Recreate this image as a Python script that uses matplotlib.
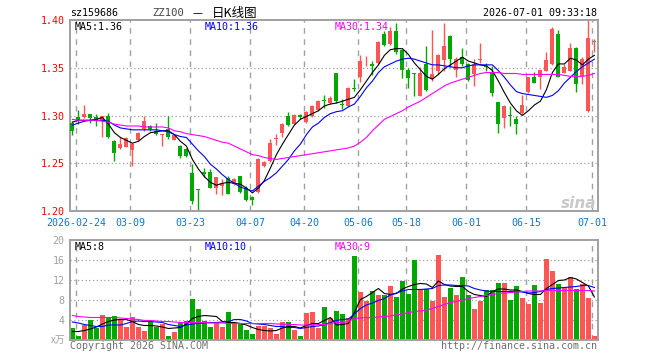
import numpy as np
import matplotlib
matplotlib.use('Agg')
from matplotlib import pyplot as plt

# daily candles, ZZ100 (sz159686)
opens = [1.292, 1.298, 1.298, 1.302, 1.298, 1.294, 1.299, 1.273, 1.266, 1.267,
         1.264, 1.274, 1.286, 1.289, 1.284, 1.280, 1.286, 1.274, 1.268, 1.265,
         1.240, 1.223, 1.241, 1.241, 1.224, 1.226, 1.235, 1.228, 1.237, 1.224,
         1.215, 1.220, 1.247, 1.252, 1.275, 1.282, 1.299, 1.291, 1.301, 1.293,
         1.299, 1.306, 1.316, 1.313, 1.344, 1.312, 1.310, 1.329, 1.340, 1.361,
         1.354, 1.355, 1.385, 1.375, 1.388, 1.369, 1.348, 1.344, 1.320, 1.354,
         1.338, 1.347, 1.358, 1.383, 1.348, 1.361, 1.354, 1.343, 1.358, 1.352,
         1.345, 1.314, 1.297, 1.301, 1.296, 1.303, 1.325, 1.340, 1.340, 1.347,
         1.354, 1.385, 1.345, 1.347, 1.371, 1.341, 1.305, 1.377]
highs = [1.294, 1.306, 1.311, 1.302, 1.302, 1.300, 1.303, 1.274, 1.277, 1.277,
         1.271, 1.283, 1.299, 1.290, 1.292, 1.281, 1.299, 1.280, 1.269, 1.266,
         1.249, 1.223, 1.245, 1.244, 1.236, 1.233, 1.237, 1.235, 1.237, 1.226,
         1.216, 1.255, 1.252, 1.275, 1.281, 1.292, 1.304, 1.302, 1.302, 1.305,
         1.311, 1.316, 1.321, 1.320, 1.344, 1.317, 1.330, 1.338, 1.363, 1.362,
         1.357, 1.378, 1.388, 1.393, 1.397, 1.370, 1.350, 1.344, 1.351, 1.373,
         1.390, 1.364, 1.397, 1.384, 1.361, 1.371, 1.355, 1.359, 1.376, 1.355,
         1.352, 1.314, 1.311, 1.310, 1.299, 1.321, 1.340, 1.346, 1.348, 1.367,
         1.393, 1.390, 1.354, 1.376, 1.372, 1.361, 1.401, 1.380]
lows = [1.280, 1.291, 1.297, 1.292, 1.289, 1.277, 1.276, 1.252, 1.265, 1.267,
        1.247, 1.273, 1.284, 1.284, 1.280, 1.268, 1.275, 1.274, 1.255, 1.257,
        1.207, 1.200, 1.236, 1.224, 1.218, 1.217, 1.218, 1.227, 1.219, 1.210,
        1.206, 1.219, 1.246, 1.251, 1.269, 1.277, 1.289, 1.291, 1.296, 1.292,
        1.298, 1.305, 1.308, 1.312, 1.313, 1.307, 1.309, 1.326, 1.335, 1.352,
        1.342, 1.354, 1.373, 1.374, 1.364, 1.339, 1.329, 1.320, 1.320, 1.326,
        1.336, 1.343, 1.347, 1.351, 1.340, 1.352, 1.336, 1.331, 1.355, 1.347,
        1.320, 1.282, 1.287, 1.289, 1.281, 1.302, 1.324, 1.334, 1.328, 1.347,
        1.353, 1.340, 1.344, 1.347, 1.325, 1.333, 1.304, 1.367]
closes = [1.284, 1.295, 1.302, 1.297, 1.294, 1.300, 1.277, 1.261, 1.270, 1.276,
          1.270, 1.282, 1.294, 1.286, 1.281, 1.281, 1.277, 1.280, 1.258, 1.258,
          1.210, 1.222, 1.239, 1.224, 1.236, 1.229, 1.218, 1.234, 1.220, 1.211,
          1.211, 1.254, 1.251, 1.271, 1.276, 1.291, 1.290, 1.301, 1.298, 1.304,
          1.310, 1.315, 1.315, 1.318, 1.315, 1.311, 1.329, 1.328, 1.357, 1.361,
          1.352, 1.377, 1.374, 1.388, 1.367, 1.348, 1.339, 1.343, 1.345, 1.327,
          1.343, 1.363, 1.373, 1.359, 1.359, 1.354, 1.337, 1.354, 1.359, 1.351,
          1.324, 1.291, 1.310, 1.299, 1.291, 1.311, 1.340, 1.334, 1.348, 1.358,
          1.391, 1.340, 1.351, 1.371, 1.333, 1.359, 1.381, 1.378]

ma5 = [1.293, 1.295, 1.295, 1.295, 1.296, 1.298, 1.291, 1.282, 1.277, 1.274,
       1.271, 1.273, 1.278, 1.282, 1.283, 1.284, 1.284, 1.280, 1.273, 1.268,
       1.254, 1.244, 1.236, 1.230, 1.227, 1.229, 1.230, 1.229, 1.228, 1.224,
       1.219, 1.224, 1.232, 1.245, 1.259, 1.270, 1.280, 1.290, 1.296, 1.299,
       1.302, 1.305, 1.310, 1.312, 1.313, 1.315, 1.317, 1.319, 1.327, 1.336,
       1.345, 1.353, 1.363, 1.369, 1.370, 1.370, 1.364, 1.355, 1.348, 1.341,
       1.338, 1.343, 1.349, 1.353, 1.357, 1.361, 1.357, 1.355, 1.353, 1.352,
       1.347, 1.336, 1.324, 1.313, 1.305, 1.300, 1.305, 1.311, 1.315, 1.327,
       1.345, 1.354, 1.354, 1.360, 1.358, 1.353, 1.359, 1.363]
ma10 = [1.290, 1.292, 1.294, 1.295, 1.295, 1.295, 1.294, 1.290, 1.287, 1.286,
        1.285, 1.285, 1.285, 1.285, 1.285, 1.284, 1.283, 1.280, 1.278, 1.277,
        1.270, 1.263, 1.257, 1.249, 1.244, 1.238, 1.233, 1.229, 1.225, 1.223,
        1.221, 1.226, 1.231, 1.235, 1.240, 1.247, 1.254, 1.263, 1.270, 1.280,
        1.288, 1.292, 1.298, 1.302, 1.304, 1.305, 1.309, 1.312, 1.320, 1.329,
        1.336, 1.345, 1.351, 1.354, 1.357, 1.359, 1.360, 1.359, 1.357, 1.355,
        1.353, 1.353, 1.352, 1.351, 1.350, 1.350, 1.352, 1.353, 1.353, 1.353,
        1.353, 1.347, 1.340, 1.332, 1.325, 1.323, 1.322, 1.321, 1.320, 1.319,
        1.321, 1.326, 1.334, 1.340, 1.346, 1.351, 1.355, 1.359]
ma30 = [1.296, 1.295, 1.295, 1.295, 1.295, 1.294, 1.293, 1.291, 1.290, 1.289,
        1.289, 1.289, 1.288, 1.288, 1.288, 1.288, 1.287, 1.284, 1.283, 1.281,
        1.280, 1.279, 1.278, 1.276, 1.274, 1.272, 1.271, 1.268, 1.265, 1.262,
        1.259, 1.258, 1.256, 1.255, 1.254, 1.255, 1.256, 1.257, 1.258, 1.259,
        1.260, 1.261, 1.262, 1.263, 1.264, 1.265, 1.266, 1.268, 1.272, 1.277,
        1.284, 1.290, 1.296, 1.299, 1.302, 1.305, 1.309, 1.312, 1.315, 1.319,
        1.323, 1.327, 1.331, 1.334, 1.336, 1.338, 1.340, 1.342, 1.344, 1.345,
        1.345, 1.345, 1.344, 1.344, 1.344, 1.343, 1.343, 1.343, 1.343, 1.343,
        1.343, 1.343, 1.342, 1.341, 1.341, 1.341, 1.342, 1.344]

# volume, x10k lots
volume = [2.5, 0.9, 3.1, 4.0, 2.5, 5.0, 4.4, 4.8, 4.0, 2.7,
          4.7, 2.7, 1.9, 3.7, 2.7, 3.3, 0.9, 1.7, 3.5, 3.8,
          8.3, 6.3, 3.8, 2.7, 3.7, 2.7, 5.7, 3.5, 3.5, 2.0,
          1.3, 2.8, 2.8, 2.5, 1.2, 3.6, 3.6, 2.1, 0.8, 5.5,
          5.7, 2.5, 6.7, 4.5, 5.8, 5.2, 4.5, 16.8, 9.6, 7.8,
          9.8, 9.0, 9.1, 10.8, 8.6, 11.9, 9.2, 16.0, 10.3, 10.3,
          7.9, 17.0, 8.6, 10.4, 9.0, 12.6, 9.0, 6.2, 7.9, 10.1,
          10.1, 11.4, 11.4, 8.1, 10.8, 8.5, 7.3, 11.0, 7.5, 16.2,
          13.9, 11.3, 10.5, 12.6, 10.3, 11.3, 8.5, 0.9]
vma5 = [1.7, 1.7, 1.9, 2.2, 2.6, 3.2, 3.7, 4.0, 4.1, 4.1,
        3.7, 3.1, 2.9, 2.9, 2.8, 2.6, 2.3, 2.4, 2.5, 3.2,
        4.3, 4.7, 4.9, 4.8, 4.7, 3.7, 3.5, 3.5, 3.3, 3.0,
        2.5, 2.1, 1.9, 1.8, 1.9, 2.4, 2.7, 2.7, 2.4, 2.9,
        3.3, 3.3, 3.9, 4.5, 3.0, 3.1, 3.3, 5.5, 8.1, 8.7,
        9.5, 10.3, 9.3, 9.1, 9.3, 10.2, 10.7, 11.1, 11.3, 11.2,
        10.5, 11.8, 11.1, 10.8, 10.7, 10.7, 9.7, 9.1, 8.9, 8.7,
        9.7, 10.2, 10.2, 10.0, 10.0, 9.7, 9.3, 9.1, 9.1, 10.3,
        11.1, 11.9, 12.0, 12.5, 12.2, 11.5, 10.8, 8.6]
vma10 = [3.6, 3.4, 3.1, 2.9, 2.7, 2.7, 3.0, 3.0, 3.0, 3.3,
         3.7, 3.8, 3.7, 3.7, 3.6, 3.5, 3.1, 2.9, 2.7, 3.0,
         3.2, 3.3, 3.4, 3.5, 3.5, 3.6, 3.7, 4.1, 4.1, 3.8,
         3.3, 3.2, 3.1, 2.9, 2.7, 2.7, 2.5, 2.5, 2.3, 2.5,
         2.7, 2.8, 3.1, 3.5, 3.9, 4.1, 4.2, 5.2, 6.3, 7.0,
         7.4, 7.9, 8.3, 9.0, 9.4, 9.8, 10.1, 10.1, 10.1, 10.2,
         10.3, 10.9, 11.0, 11.0, 10.9, 10.9, 10.8, 10.3, 10.0, 9.8,
         9.7, 9.7, 9.7, 9.7, 9.7, 9.6, 9.4, 9.5, 9.7, 10.1,
         10.3, 10.4, 10.5, 10.6, 10.7, 10.9, 10.9, 10.5]
vma30 = [4.9, 4.7, 4.6, 4.5, 4.5, 4.5, 4.5, 4.5, 4.4, 4.3,
         4.2, 4.1, 3.9, 3.9, 3.8, 3.7, 3.7, 3.6, 3.5, 3.5,
         3.5, 3.5, 3.5, 3.4, 3.4, 3.4, 3.3, 3.3, 3.3, 3.3,
         3.3, 3.3, 3.3, 3.3, 3.2, 3.2, 3.1, 3.1, 3.0, 3.0,
         3.0, 3.1, 3.1, 3.3, 3.5, 3.5, 3.7, 4.3, 4.4, 4.5,
         4.5, 4.6, 4.7, 4.8, 5.0, 5.2, 5.5, 5.7, 5.8, 6.0,
         6.3, 6.7, 7.1, 7.5, 7.7, 8.0, 8.3, 8.5, 8.7, 8.9,
         9.1, 9.3, 9.4, 9.5, 9.6, 9.7, 9.8, 9.8, 9.8, 9.9,
         9.9, 9.9, 9.9, 9.9, 9.9, 9.9, 9.9, 9.8]

date_pos = [1, 10, 20, 30, 39, 48, 56, 66, 76, 87]
date_lbl = ['2026-02-24', '03-09', '03-23', '04-07', '04-20',
            '05-06', '05-18', '06-01', '06-15', '07-01']

RED = '#ff5555'
GREEN = '#00a800'
GRID = '#a0a0a0'
MONO = 'DejaVu Sans Mono'
CJK = ['Noto Sans CJK SC', 'DejaVu Sans']
FS = 7.2

o = np.array(opens)
h = np.array(highs)
l = np.array(lows)
c = np.array(closes)
x = np.arange(len(o))
up = c >= o
col = np.where(up, RED, GREEN)

fig = plt.figure(figsize=(6.6, 3.6), dpi=100)
ax = fig.add_axes([70 / 660, 149 / 360, 528 / 660, 191 / 360])
axv = fig.add_axes([70 / 660, 20 / 360, 528 / 660, 100 / 360])


def fy(py):
    # pixel row from the top -> figure fraction
    return 1 - py / 360


xlim = (-0.4, 87.6)
grid_x = [p - 0.33 for p in date_pos]

for a in (ax, axv):
    a.set_xlim(*xlim)
    for s in a.spines.values():
        s.set_color(GRID)
        s.set_linewidth(1.4)
    for gx in grid_x:
        a.axvline(gx, color=GRID, lw=1.0, ls=(0, (4, 4)), zorder=0)
    a.tick_params(length=0)

# price panel
ax.set_ylim(1.20, 1.40)
for yy in (1.25, 1.30, 1.35):
    ax.axhline(yy, color=GRID, lw=0.9, ls=(0, (1, 2)), zorder=0)
ax.vlines(x, l, h, colors=col, lw=1.0, zorder=2)
body = np.maximum(np.abs(c - o), 0.0007)
ax.bar(x, body, bottom=np.minimum(o, c), width=0.68, color=col, zorder=3, linewidth=0)
ax.plot(x, ma5, color='black', lw=0.8, zorder=4)
ax.plot(x, ma10, color='#0000ff', lw=0.8, zorder=4)
ax.plot(x, ma30, color='#ff00ff', lw=0.8, zorder=4)
ax.set_yticks([1.20, 1.25, 1.30, 1.35, 1.40])
ax.set_yticklabels(['1.20', '1.25', '1.30', '1.35', '1.40'], color='red',
                   family=MONO, fontsize=FS)
ax.tick_params(axis='y', pad=4)
ax.set_xticks(grid_x)
ax.set_xticklabels(date_lbl, color='#0a78d2', family=MONO, fontsize=FS)
ax.tick_params(axis='x', pad=5)

fig.text(75 / 660, fy(27), 'MA5:1.36', color='black', family=MONO,
         fontsize=FS, va='center', ha='left')
fig.text(205 / 660, fy(27), 'MA10:1.36', color='#0000ff', family=MONO,
         fontsize=FS, va='center', ha='left')
fig.text(335 / 660, fy(27), 'MA30:1.34', color='#ff00ff', family=MONO,
         fontsize=FS, va='center', ha='left')

# sina watermark
fig.text(596 / 660, fy(203), 'sina', color='#c8c8c8', fontsize=11,
         fontweight='bold', style='italic', ha='right', va='center')

# header
fig.text(70 / 660, fy(13), 'sz159686', color='black', family=MONO,
         fontsize=FS, va='center', ha='left')
fig.text(152 / 660, fy(13), 'ZZ100', color='#444444', family=MONO,
         fontsize=7.6, va='center', ha='left')
fig.text(197 / 660, fy(13), '一', color='black', family=CJK,
         fontsize=7, va='center', ha='center')
fig.text(212 / 660, fy(13), '日K线图', color='black', family=CJK,
         fontsize=9, va='center', ha='left')
fig.text(597 / 660, fy(13), '2026-07-01 09:33:18', color='black',
         family=MONO, fontsize=FS, va='center', ha='right')

# volume panel
axv.set_ylim(0, 20)
for yy in (4, 8, 12, 16):
    axv.axhline(yy, color=GRID, lw=0.9, ls=(0, (1, 2)), zorder=0)
axv.bar(x, volume, width=0.78, color=col, linewidth=0, zorder=2)
axv.plot(x, vma5, color='black', lw=0.8, zorder=3)
axv.plot(x, vma10, color='#0000ff', lw=0.8, zorder=3)
axv.plot(x, vma30, color='#ff00ff', lw=0.8, zorder=3)
axv.set_yticks([4, 8, 12, 16, 20])
axv.set_yticklabels(['4', '8', '12', '16', '20'], color='#a0a0a0',
                    family=MONO, fontsize=FS)
axv.tick_params(axis='y', pad=4)
axv.set_xticks([])
fig.text(65 / 660, fy(340), 'x万', color='#a0a0a0', family=CJK,
         fontsize=7, va='center', ha='right')
fig.text(75 / 660, fy(247), 'MA5:8', color='black', family=MONO,
         fontsize=FS, va='center', ha='left')
fig.text(205 / 660, fy(247), 'MA10:10', color='#0000ff', family=MONO,
         fontsize=FS, va='center', ha='left')
fig.text(335 / 660, fy(247), 'MA30:9', color='#ff00ff', family=MONO,
         fontsize=FS, va='center', ha='left')

fig.text(70 / 660, fy(346), 'Copyright 2026 SINA.COM', color='#707070',
         family=MONO, fontsize=FS, va='center', ha='left')
fig.text(597 / 660, fy(346), 'http://finance.sina.com.cn',
         color='#707070', family=MONO, fontsize=FS, va='center', ha='right')

fig.savefig('out.png', dpi=100)
